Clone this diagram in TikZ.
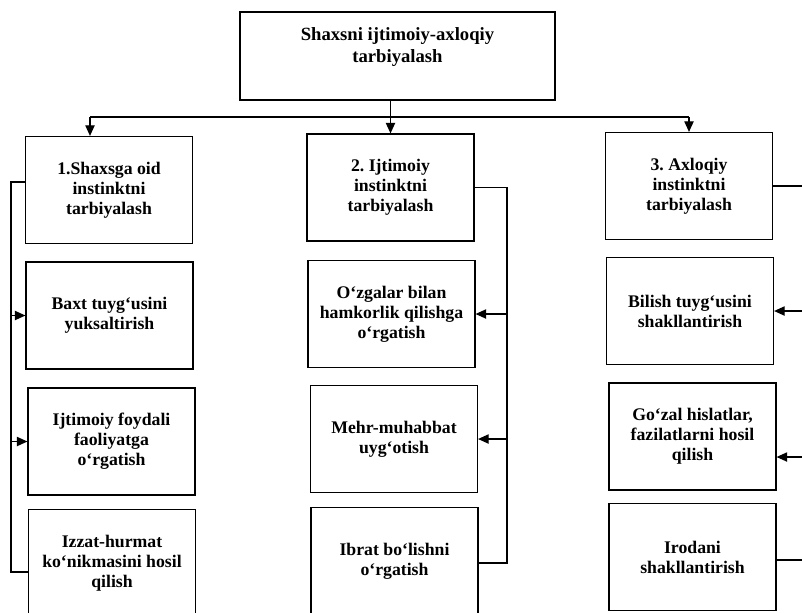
\documentclass[tikz,border=0pt]{standalone}
\usepackage{fontspec}
\setmainfont{Liberation Serif}
\usepackage{tikz}
\usetikzlibrary{arrows.meta}
\tikzset{tbox/.style={draw,line width=1.1pt,align=center,inner sep=2pt,
    minimum width=125pt,minimum height=80pt,
    font=\fontsize{13.3}{15}\selectfont\bfseries},
  link/.style={line width=1pt},
  arr/.style={link,-{Triangle[length=8pt,width=7pt]}}}
\frenchspacing

\begin{document}
\begin{tikzpicture}[x=0.75pt,y=0.75pt,yscale=-1,xscale=1]
\clip (0,0) rectangle (802,612);

%Top box
\node [tbox,minimum width=236pt,minimum height=66pt,font=\fontsize{14}{16.5}\selectfont\bfseries] (top) at (397.5,56) {Shaxsni ijtimoiy-axloqiy\\ tarbiyalash\\ ~};

%First level
\node [tbox] (b1) at (109,190) {1.Shaxsga oid\\ instinktni\\ tarbiyalash};
\node [tbox] (b2) at (390.5,187.5) {2. Ijtimoiy\\ instinktni\\ tarbiyalash};
\node [tbox] (b3) at (689,186) {3. Axloqiy\\ instinktni\\ tarbiyalash};

%Column 1
\node [tbox] (b1a) at (109.5,315.5) {Baxt tuyg‘usini\\ yuksaltirish};
\node [tbox] (b1b) at (111.5,441.5) {Ijtimoiy foydali\\ faoliyatga\\ o‘rgatish};
\node [tbox] (b1c) at (112,563) {Izzat-hurmat\\ ko‘nikmasini hosil\\ qilish};
%Column 2
\node [tbox] (b2a) at (391.5,314) {O‘zgalar bilan\\ hamkorlik qilishga\\ o‘rgatish};
\node [tbox] (b2b) at (394,439) {Mehr-muhabbat\\ uyg‘otish};
\node [tbox] (b2c) at (394.5,561) {Ibrat bo‘lishni\\ o‘rgatish};
%Column 3
\node [tbox] (b3a) at (690,311) {Bilish tuyg‘usini\\ shakllantirish};
\node [tbox] (b3b) at (692.5,436.5) {Go‘zal hislatlar,\\ fazilatlarni hosil\\ qilish};
\node [tbox] (b3c) at (692.5,557) {Irodani\\ shakllantirish};

%Top branches
\coordinate (k1) at (90,117);
\draw [arr] (top.south -| b2.north) -- (b2.north);
\draw [link] (k1) -- (k1 -| b3.north);
\draw [arr] (k1) -- (b1.north -| k1);
\draw [arr] (k1 -| b3.north) -- (b3.north);

%Left spine
\coordinate (l0) at (11,182);
\coordinate (l3) at (11,572);
\draw [link] (l0 -| b1.west) -- (l0) -- (l3) -- (l3 -| b1c.west);
\draw [arr] (l0 |- b1a.west) -- (b1a.west);
\draw [arr] (l0 |- b1b.west) -- (b1b.west);

%Middle spine
\coordinate (m0) at (507,187.5);
\coordinate (m3) at (507,563);
\draw [link] (b2.east) -- (m0) -- (m3) -- (m3 -| b2c.east);
\draw [arr] (m0 |- b2a.east) -- (b2a.east);
\draw [arr] (m0 |- b2b.east) -- (b2b.east);

%Right spine
\coordinate (r0) at (803,186);
\coordinate (r2) at (803,457);
\coordinate (r3) at (803,560);
\draw [link] (b3.east) -- (r0) -- (r3) -- (r3 -| b3c.east);
\draw [arr] (r0 |- b3a.east) -- (b3a.east);
\draw [arr] (r2) -- (r2 -| b3b.east);

\end{tikzpicture}
\end{document}
